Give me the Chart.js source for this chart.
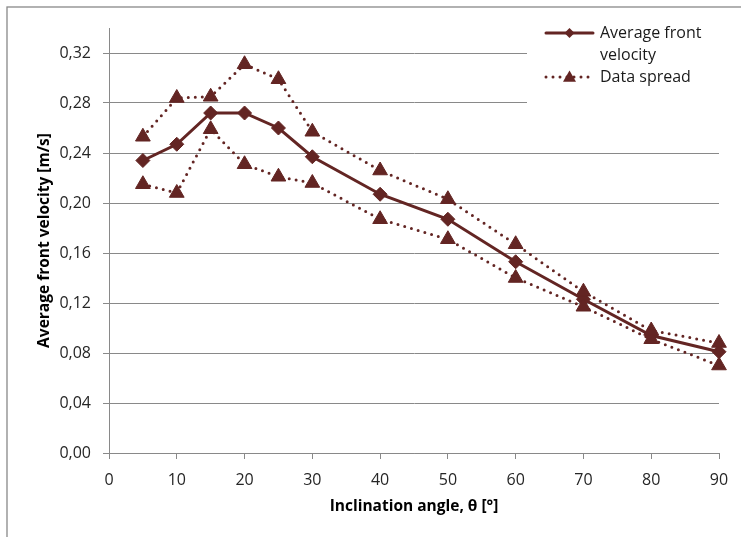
<!DOCTYPE html>
<html>
<head>
<meta charset="utf-8">
<script src="https://cdn.jsdelivr.net/npm/chart.js@4/dist/chart.umd.min.js"></script>
<style>
  body { margin: 0; background: #fff; }
  #wrap { width: 741px; height: 537px; }
</style>
</head>
<body>
<div id="wrap"><canvas id="lineChartCanvas" width="741" height="537"></canvas></div>
<script>
// values
let angles = [5, 10, 15, 20, 25, 30, 40, 50, 60, 70, 80, 90];
let avgVelocity = [0.234, 0.247, 0.272, 0.272, 0.260, 0.237, 0.207, 0.187, 0.153, 0.123, 0.094, 0.081];
let spreadUpper = [0.253, 0.284, 0.285, 0.311, 0.299, 0.257, 0.226, 0.203, 0.167, 0.129, 0.098, 0.088];
let spreadLower = [0.215, 0.208, 0.259, 0.231, 0.221, 0.216, 0.187, 0.171, 0.140, 0.117, 0.091, 0.070];
let xTicks = [0, 10, 20, 30, 40, 50, 60, 70, 80, 90];
let yTicks = [0, 0.04, 0.08, 0.12, 0.16, 0.20, 0.24, 0.28, 0.32];
let legendLabels = [['Average front', 'velocity'], ['Data spread']];

const maroon = '#632523';
const axisGray = '#898989';
const fontFamily = '"Open Sans", Lato, sans-serif';

let toPoints = function (values) {
  return values.map(function (v, i) { return { x: angles[i], y: v }; });
};

let spreadStyle = {
  borderColor: maroon,
  backgroundColor: maroon,
  borderWidth: 3,
  borderDash: [0, 7],
  borderCapStyle: 'round',
  pointStyle: 'triangle',
  pointRadius: 8.5,
  pointBorderWidth: 1,
  pointHoverRadius: 8.5,
  clip: false,
  order: 0
};

// frame round the whole chart, and the legend drawn by hand so the first label can wrap
let framePlugin = {
  id: 'frame',
  beforeDraw: function (chart) {
    let ctx = chart.ctx;
    ctx.save();
    ctx.strokeStyle = axisGray;
    ctx.lineWidth = 1.3;
    ctx.strokeRect(7, 7, 900, 900);
    ctx.restore();
  }
};

let drawDiamond = function (ctx, x, y, r) {
  ctx.beginPath();
  ctx.moveTo(x, y - r);
  ctx.lineTo(x + r, y);
  ctx.lineTo(x, y + r);
  ctx.lineTo(x - r, y);
  ctx.closePath();
  ctx.fill();
};

let drawTriangle = function (ctx, x, y, r) {
  ctx.beginPath();
  ctx.moveTo(x, y - r);
  ctx.lineTo(x + r * 0.866, y + r * 0.5);
  ctx.lineTo(x - r * 0.866, y + r * 0.5);
  ctx.closePath();
  ctx.fill();
};

let legendPlugin = {
  id: 'customLegend',
  afterDraw: function (chart) {
    let ctx = chart.ctx;
    ctx.save();
    ctx.fillStyle = '#fff';
    ctx.fillRect(527, 12, 200, 98);

    ctx.strokeStyle = maroon;
    ctx.fillStyle = maroon;
    ctx.lineWidth = 3;
    ctx.lineCap = 'round';

    // solid line with diamond
    ctx.beginPath();
    ctx.moveTo(546, 33);
    ctx.lineTo(593, 33);
    ctx.stroke();
    drawDiamond(ctx, 569.5, 33, 5);

    // dotted line with triangle
    ctx.setLineDash([0, 7]);
    ctx.beginPath();
    ctx.moveTo(546, 77);
    ctx.lineTo(594, 77);
    ctx.stroke();
    ctx.setLineDash([]);
    drawTriangle(ctx, 569.5, 78, 7.5);

    ctx.fillStyle = '#1a1a1a';
    ctx.font = '16px ' + fontFamily;
    ctx.textBaseline = 'middle';
    ctx.textAlign = 'left';
    ctx.fillText(legendLabels[0][0], 600, 33);
    ctx.fillText(legendLabels[0][1], 600, 55);
    ctx.fillText(legendLabels[1][0], 600, 77);
    ctx.restore();
  }
};

let lineChartDraw = function () {
  let ctx = document.getElementById('lineChartCanvas').getContext('2d');

  window.lineChart = new Chart(ctx, {
    type: 'line',
    data: {
      datasets: [
        Object.assign({ label: 'Data spread', data: toPoints(spreadUpper) }, spreadStyle),
        Object.assign({ label: 'Data spread (low)', data: toPoints(spreadLower) }, spreadStyle),
        {
          label: 'Average front velocity',
          data: toPoints(avgVelocity),
          borderColor: maroon,
          backgroundColor: maroon,
          borderWidth: 3,
          pointStyle: 'rectRot',
          pointRadius: 7,
          pointBorderWidth: 1,
          pointHoverRadius: 7,
          clip: false,
          order: 1
        }
      ]
    },
    options: {
      responsive: false,
      animation: false,
      layout: { padding: { left: 0, top: 28, right: 22, bottom: 0 } },
      plugins: {
        legend: { display: false },
        tooltip: { enabled: false }
      },
      scales: {
        x: {
          type: 'linear',
          min: xTicks[0],
          max: xTicks[xTicks.length - 1],
          afterFit: function (scale) { scale.height = 84; },
          afterBuildTicks: function (scale) {
            scale.ticks = xTicks.map(function (v) { return { value: v }; });
          },
          grid: { drawOnChartArea: false, drawTicks: true, tickLength: 6, color: axisGray },
          border: { color: axisGray, width: 1 },
          ticks: {
            color: '#262626',
            padding: 12,
            maxRotation: 0,
            font: { family: fontFamily, size: 16 }
          },
          title: {
            display: true,
            text: 'Inclination angle, θ [°]',
            color: '#000',
            padding: { top: 0, bottom: 21 },
            font: { family: fontFamily, size: 15.5, weight: 'bold' }
          }
        },
        y: {
          min: 0,
          max: 0.34,
          afterFit: function (scale) { scale.width = 109; },
          afterBuildTicks: function (scale) {
            scale.ticks = yTicks.map(function (v) { return { value: v }; });
          },
          grid: { color: axisGray, tickLength: 6 },
          border: { color: axisGray, width: 1 },
          ticks: {
            color: '#262626',
            padding: 12,
            font: { family: fontFamily, size: 16 },
            callback: function (value) { return value.toFixed(2).replace('.', ','); }
          },
          title: {
            display: true,
            text: 'Average front velocity [m/s]',
            color: '#000',
            padding: { top: 35, bottom: 0 },
            font: { family: fontFamily, size: 15.5, weight: 'bold' }
          }
        }
      }
    },
    plugins: [framePlugin, legendPlugin]
  });
};

window.onload = function () {
  lineChartDraw();
};
</script>
</body>
</html>
